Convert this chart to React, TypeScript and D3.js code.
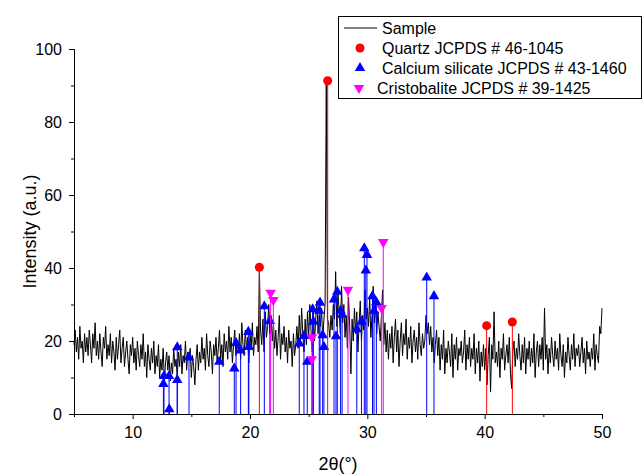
import React, { useEffect, useRef } from 'react';
import * as d3 from 'd3';

const width = 644;
const height = 475;

const xTicks = [10, 20, 30, 40, 50];
const xMinorTicks = [5, 15, 25, 35, 45];
const yTicks = [0, 20, 40, 60, 80, 100];
const yMinorTicks = [10, 30, 50, 70, 90];

// measured pattern, 2theta from 5 to 50 in 0.1 degree steps
const sampleStart = 5;
const sampleStep = 0.1;
const sampleIntensity = [
  19, 23, 17, 21, 15, 24, 18, 20, 14, 22,
  17, 21, 16, 23, 19, 14, 22, 18, 25, 16,
  20, 15, 22, 17, 13, 21, 18, 24, 15, 19,
  16, 22, 14, 20, 17, 12, 21, 15, 19, 23,
  14, 18, 21, 13, 17, 20, 15, 11, 19, 16,
  21, 14, 18, 12, 20, 16, 13, 19, 15, 22,
  13, 17, 10, 19, 15, 12, 18, 14, 20, 11,
  16, 13, 19, 10, 15, 12, 18, 9, 14, 17,
  12, 16, 9, 14, 11, 18, 13, 15, 10, 17,
  13, 19, 11, 16, 14, 20, 12, 17, 15, 18,
  10, 16, 13, 8, 15, 19, 12, 17, 14, 21,
  15, 18, 12, 22, 16, 13, 20, 17, 11, 19,
  16, 21, 14, 18, 23, 15, 19, 13, 22, 17,
  20, 15, 24, 17, 21, 14, 19, 23, 16, 20,
  17, 22, 15, 25, 19, 16, 23, 18, 21, 14,
  22, 18, 25, 16, 21, 19, 24, 17, 40, 23,
  19, 26, 17, 28, 21, 24, 30, 22, 27, 20,
  25, 18, 23, 16, 21, 27, 15, 22, 19, 24,
  17, 21, 14, 23, 18, 20, 13, 22, 16, 19,
  24, 18, 27, 20, 29, 22, 17, 26, 19, 28,
  21, 30, 23, 17, 28, 20, 26, 31, 22, 27,
  24, 29, 20, 26, 30, 91, 26, 25, 21, 27,
  23, 30, 26, 39, 24, 33, 28, 22, 35, 25,
  30, 21, 27, 18, 32, 24, 11, 26, 20, 29,
  22, 28, 17, 25, 31, 20, 27, 23, 34, 26,
  29, 24, 32, 21, 27, 35, 25, 30, 22, 28,
  24, 20, 27, 34, 19, 25, 17, 23, 15, 22,
  18, 24, 14, 21, 26, 17, 23, 13, 20, 25,
  16, 22, 19, 26, 15, 21, 18, 24, 14, 20,
  23, 17, 21, 15, 25, 19, 16, 22, 18, 20,
  27, 22, 25, 19, 24, 17, 21, 14, 19, 23,
  16, 21, 12, 19, 15, 23, 11, 18, 14, 20,
  17, 13, 22, 10, 19, 15, 21, 12, 18, 16,
  20, 14, 17, 23, 12, 19, 15, 21, 13, 18,
  15, 22, 11, 18, 14, 20, 9, 17, 13, 19,
  12, 18, 8, 16, 21, 6, 19, 15, 28, 14,
  17, 13, 20, 10, 18, 15, 22, 12, 16, 19,
  14, 21, 11, 7, 17, 20, 13, 18, 15, 22,
  16, 12, 19, 14, 21, 11, 18, 15, 20, 13,
  18, 14, 22, 10, 17, 20, 13, 19, 15, 21,
  12, 29, 15, 19, 11, 18, 14, 21, 16, 13,
  20, 15, 18, 12, 22, 16, 13, 19, 10, 17,
  14, 21, 16, 12, 19, 15, 22, 13, 18, 16,
  19, 13, 17, 21, 14, 18, 11, 20, 15, 17,
  13, 18, 15, 22, 12, 19, 16, 14, 24, 22,
  29,
];

// reference patterns
const quartzTheta = [20.8, 26.62, 40.17, 42.36];
const quartzIntensity = [40.2, 91.3, 24.2, 25.2];

const calciumTheta = [
  12.62, 12.67, 13.1, 13.12, 13.8, 13.8, 14.8, 17.38, 18.66, 18.81,
  19.2, 19.86, 19.9, 21.22, 21.7, 24.2, 24.6, 24.88, 25.34, 25.4,
  25.97, 25.9, 26.19, 26.3, 27.16, 27.44, 27.33, 27.72, 27.85, 29.1,
  29.5, 29.74, 29.97, 29.87, 30.44, 30.77, 30.57, 35.06, 35.68,
];
const calciumIntensity = [
  8.2, 10.4, 10.4, 1.3, 18.3, 9.3, 15.5, 14.3, 12.5, 19.4,
  17.4, 22.5, 18.4, 29.5, 25.5, 19.3, 21.4, 14.3, 28.7, 25.3,
  30.5, 28.3, 21.6, 18.4, 31.4, 33.5, 21.3, 28.3, 27.2, 23.2,
  25.3, 45.4, 43.6, 39.3, 32.3, 30.6, 28.3, 37.4, 32.3,
];

const cristobaliteTheta = [21.76, 21.99, 25.28, 25.26, 28.35, 31.36, 31.22];
const cristobaliteIntensity = [33.2, 31.2, 21, 15, 34, 47.1, 29];

const legendLabels = [
  'Sample',
  'Quartz JCPDS # 46-1045',
  'Calcium silicate JCPDS # 43-1460',
  'Cristobalite JCPDS # 39-1425',
];

const font = '"Liberation Sans", Arial, sans-serif';

const App = () => {
  const ref = useRef<SVGSVGElement>(null);

  useEffect(() => {
    const svg = d3.select(ref.current);
    svg.selectAll('*').remove();

    const x = d3.scaleLinear().domain([5, 50]).range([74, 602]);
    const y = d3.scaleLinear().domain([0, 100]).range([414, 49]);

    // axes
    const xAxisG = svg.append('g').attr('transform', `translate(0,${y(0)})`);
    xAxisG.append('g')
      .call(d3.axisBottom(x).tickValues(xMinorTicks).tickSize(3).tickSizeOuter(0).tickFormat(() => ''));
    xAxisG.append('g')
      .call(d3.axisBottom(x).tickValues(xTicks).tickSize(5).tickSizeOuter(0).tickPadding(7.5).tickFormat(d3.format('d')));

    const yAxisG = svg.append('g').attr('transform', `translate(${x(5)},0)`);
    yAxisG.append('g')
      .call(d3.axisLeft(y).tickValues(yMinorTicks).tickSize(3).tickSizeOuter(0).tickFormat(() => ''));
    yAxisG.append('g')
      .call(d3.axisLeft(y).tickValues(yTicks).tickSize(5).tickSizeOuter(0).tickPadding(7).tickFormat(d3.format('d')));

    svg.selectAll('.tick text')
      .attr('font-family', font)
      .attr('font-size', 16)
      .attr('fill', '#000');
    svg.selectAll('.domain, .tick line').attr('stroke', '#000');

    // sample trace
    const line = d3.line<number>()
      .x((d, i) => x(sampleStart + i * sampleStep))
      .y(d => y(d));

    svg.append('path')
      .datum(sampleIntensity)
      .attr('fill', 'none')
      .attr('stroke', '#000')
      .attr('stroke-width', 1)
      .attr('stroke-linejoin', 'round')
      .attr('d', line);

    const sticks = (theta: number[], inten: number[], color: string, symbol: d3.SymbolType, size: number, rotate: number) => {
      const g = svg.append('g');
      g.selectAll('line')
        .data(theta)
        .join('line')
        .attr('x1', d => x(d))
        .attr('x2', d => x(d))
        .attr('y1', y(0))
        .attr('y2', (d, i) => y(inten[i]))
        .attr('stroke', color)
        .attr('stroke-width', 1);
      g.selectAll('path')
        .data(theta)
        .join('path')
        .attr('d', d3.symbol().type(symbol).size(size)())
        .attr('transform', (d, i) => `translate(${x(d)},${y(inten[i])}) rotate(${rotate})`)
        .attr('fill', color);
    };

    sticks(calciumTheta, calciumIntensity, '#0000ff', d3.symbolTriangle, 48, 0);
    sticks(cristobaliteTheta, cristobaliteIntensity, '#ff00ff', d3.symbolTriangle, 48, 180);
    sticks(quartzTheta, quartzIntensity, '#ff0000', d3.symbolCircle, 64, 0);

    // axis titles
    svg.append('text')
      .attr('x', (x(5) + x(50)) / 2)
      .attr('y', 470)
      .attr('text-anchor', 'middle')
      .attr('font-family', font)
      .attr('font-size', 18)
      .text('2θ(°)');

    svg.append('text')
      .attr('transform', `translate(36,${(y(0) + y(100)) / 2}) rotate(-90)`)
      .attr('text-anchor', 'middle')
      .attr('font-family', font)
      .attr('font-size', 18)
      .text('Intensity (a.u.)');

    // legend
    const lg = svg.append('g');
    lg.append('rect')
      .attr('x', 338.5)
      .attr('y', 16.5)
      .attr('width', 303)
      .attr('height', 82)
      .attr('fill', '#fff')
      .attr('stroke', '#000')
      .attr('stroke-width', 1);

    const rowY = [28, 48, 68, 88];
    lg.append('line')
      .attr('x1', 344).attr('x2', 377)
      .attr('y1', rowY[0]).attr('y2', rowY[0])
      .attr('stroke', '#000');
    lg.append('path')
      .attr('d', d3.symbol().type(d3.symbolCircle).size(64)())
      .attr('transform', `translate(360,${rowY[1]})`)
      .attr('fill', '#ff0000');
    lg.append('path')
      .attr('d', d3.symbol().type(d3.symbolTriangle).size(48)())
      .attr('transform', `translate(360,${rowY[2]})`)
      .attr('fill', '#0000ff');
    lg.append('path')
      .attr('d', d3.symbol().type(d3.symbolTriangle).size(48)())
      .attr('transform', `translate(359,${rowY[3]}) rotate(180)`)
      .attr('fill', '#ff00ff');

    lg.selectAll('text')
      .data(legendLabels)
      .join('text')
      .attr('x', (d, i) => (i === 3 ? 377 : 382))
      .attr('y', (d, i) => rowY[i])
      .attr('dy', '0.35em')
      .attr('font-family', font)
      .attr('font-size', 16)
      .text(d => d);
  }, []);

  return (
    <svg
      ref={ref}
      width={width}
      height={height}
      style={{ position: 'absolute', left: 0, top: 0, background: '#fff' }}
    />
  );
};

export default App;
